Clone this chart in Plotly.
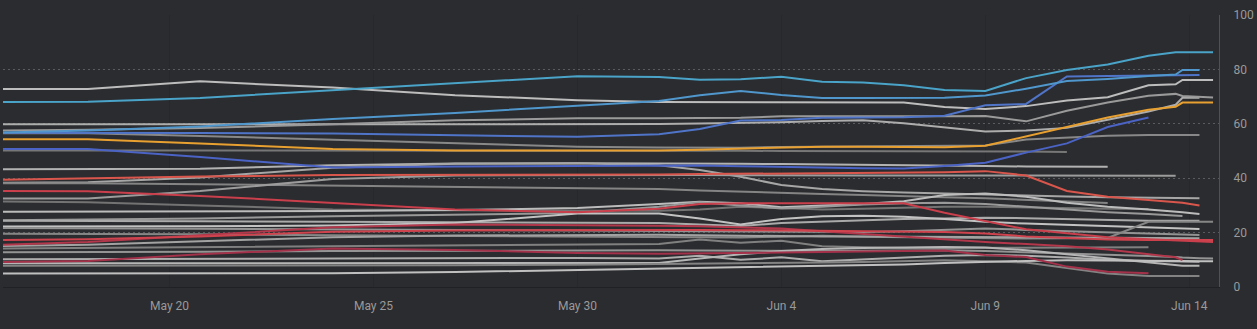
import plotly.graph_objects as go

dates = ["2020-05-15 22:00", "2020-05-18", "2020-05-20 18:00", "2020-05-24", "2020-05-27",
         "2020-05-30", "2020-06-01", "2020-06-02", "2020-06-03", "2020-06-04", "2020-06-05",
         "2020-06-06", "2020-06-07", "2020-06-08", "2020-06-09", "2020-06-10", "2020-06-11",
         "2020-06-12", "2020-06-13", "2020-06-13 16:00", "2020-06-13 20:00",
         "2020-06-14 06:00", "2020-06-14 14:00"]
N = None

# gray series
s_a = [72.8, 72.8, 75.6, 73.3, 70.5, 68.7, 68.0, 68.0, 68.0, 67.9, 67.9, 67.8, 67.8, 66.2, 65.4, 66.5, 68.6, 69.8, 74.2, 74.5, 76.1, 76.1, 76.1]
s_h = [59.8, 59.8, 59.8, 59.8, 59.8, 59.8, 59.9, 60.1, 60.3, 60.6, 61.0, 61.3, 60.2, 58.7, 57.2, 57.5, 58.5, 61.5, 64.5, 67.0, 69.6, 69.6, N]
s_i = [57.5, 57.8, 58.5, 59.8, 61.3, 62.0, 62.0, 62.0, 62.2, 62.8, 62.8, 62.6, 62.6, 62.8, 62.9, 60.9, 64.8, 67.8, 70.3, 71.0, 70.2, 69.8, 69.7]
s_k = [56.5, 56.5, 55.5, 54.2, 52.9, 51.6, 51.3, 51.2, 51.2, 51.5, 51.6, 51.6, 51.6, 51.7, 52.0, 54.2, 55.0, 55.6, 55.9, 55.9, 55.9, 55.9, N]
s_j = [50.2, 50.2, 50.3, 50.3, 50.2, 50.2, 50.2, 50.1, 50.1, 50.0, 50.0, 50.0, 50.0, 50.0, 49.9, 49.8, 49.6, N, N, N, N, N, N]
s_l = [43.3, 43.3, 43.5, 44.8, 45.4, 45.5, 45.5, 45.4, 45.3, 45.2, 45.1, 45.0, 44.9, 44.8, 44.5, 44.3, 44.2, 44.2, N, N, N, N, N]
s_1 = [38.3, 38.5, 40.3, 43.8, 45.3, 45.5, 44.8, 43.0, 40.5, 37.5, 36.0, 35.2, 34.7, 34.3, 34.0, 33.6, 33.3, 33.0, 32.8, 32.7, 32.6, 32.6, N]
s_2 = [38.1, 38.1, 37.8, 37.3, 36.9, 36.4, 36.0, 35.5, 35.0, 34.6, 34.2, 33.8, 33.3, 33.0, 32.6, 32.0, 31.4, 30.9, N, N, N, N, N]
s_3 = [32.5, 32.5, 35.3, 39.7, 41.0, 41.2, 41.2, 41.2, 41.1, 41.0, 41.0, 41.0, 41.0, 41.0, 41.0, 41.0, 40.9, 40.9, 40.9, 40.9, N, N, N]
s_4 = [31.4, 31.2, 30.0, 28.5, 28.2, 28.0, 28.0, 28.5, 29.5, 29.0, 28.5, 28.8, 29.2, 29.5, 29.5, 29.2, 29.0, 28.8, 28.7, N, N, N, N]
s_5 = [27.7, 27.7, 27.7, 27.9, 28.3, 29.0, 30.5, 31.3, 30.8, 29.3, 30.0, 30.5, 31.5, 33.8, 34.4, 33.2, 31.0, 29.5, 28.5, 27.8, 27.5, 26.8, N]
s_6 = [24.5, 24.7, 25.2, 26.0, 26.5, 27.2, 29.5, 31.2, 30.0, 28.9, 29.5, 30.3, 30.8, 31.0, 30.5, 29.5, 28.5, 27.5, 26.8, 26.3, 26.1, N, N]
s_7 = [24.4, 24.4, 24.2, 24.0, 23.8, 23.5, 23.5, 23.0, 22.4, 23.5, 24.0, 24.6, 25.0, 25.2, 25.5, 25.3, 25.0, 24.6, 24.4, 24.4, 24.4, 24.4, N]
s_8 = [22.2, 22.2, 22.3, 22.6, 23.5, 27.0, 27.0, 25.2, 23.0, 25.0, 26.0, 26.2, 25.8, 25.0, 24.0, 23.3, 22.8, 22.3, 21.8, 21.5, 21.4, 21.3, N]
s_9 = [21.7, 21.6, 21.5, 21.3, 21.0, 20.8, 20.6, 20.5, 20.3, 20.2, 20.1, 20.2, 20.5, 21.0, 21.5, 21.0, 20.5, 20.0, 19.5, 19.3, 19.2, 19.1, N]
s_10 = [19.6, 19.6, 19.4, 19.0, 18.8, 18.6, 18.5, 18.3, 18.2, 18.5, 18.8, 18.5, 18.3, 18.0, 17.8, 17.8, 17.9, 18.0, 24.0, 24.0, 24.0, 24.0, 24.0]
s_11 = [15.1, 15.5, 16.8, 18.3, 18.9, 19.2, 19.2, 19.0, 18.8, 18.7, 18.6, 18.6, 18.5, 18.4, 18.4, 18.3, 18.2, 18.0, 18.0, 17.9, 17.9, 17.9, N]
s_12 = [14.2, 14.4, 14.8, 15.2, 15.5, 15.8, 15.8, 17.5, 16.3, 17.0, 15.0, 14.6, 14.3, 14.3, 14.4, 14.5, 14.6, 14.6, 14.6, N, N, N, N]
s_13 = [12.8, 12.8, 13.0, 13.2, 13.4, 13.5, 13.5, 13.4, 13.3, 13.2, 13.2, 13.3, 13.5, 13.5, 13.2, 12.8, 12.4, 12.0, 11.4, 11.0, 10.8, 10.6, 10.5]
s_14 = [10.2, 10.3, 10.4, 10.5, 10.6, 10.7, 10.5, 11.5, 10.0, 10.9, 9.5, 10.2, 11.0, 11.5, 11.8, 11.5, 10.8, 10.0, 9.6, 9.4, 9.3, 9.3, N]
s_15 = [8.7, 8.7, 8.7, 8.7, 8.7, 8.7, 8.8, 10.5, 12.0, 13.2, 14.0, 14.3, 14.5, 14.7, 14.5, 13.5, 12.0, 10.5, 9.0, 8.0, 7.8, 7.8, N]
s_16 = [7.8, 7.8, 7.8, 7.9, 8.0, 8.2, 8.4, 8.5, 8.6, 8.8, 9.0, 9.2, 9.5, 9.8, 9.5, 9.0, 7.0, 5.0, 4.0, 4.0, 4.0, 4.0, N]
s_17 = [5.0, 5.0, 5.0, 5.1, 5.5, 6.2, 6.8, 7.0, 7.2, 7.4, 7.6, 7.9, 8.3, 8.8, 9.3, 9.6, 9.8, 9.8, 9.7, 9.6, 9.6, 9.5, 9.5]

# coloured series
s_cyan1 = [68.0, 68.1, 69.5, 72.3, 74.8, 77.5, 77.2, 76.2, 76.4, 77.3, 75.5, 75.2, 74.2, 72.4, 72.1, 76.8, 79.8, 81.8, 85.0, 86.3, 86.3, 86.3, 86.3]
s_cyan2 = [56.8, 57.5, 59.0, 61.8, 64.0, 66.7, 68.4, 70.5, 72.1, 70.6, 69.5, 69.5, 69.5, 69.6, 70.4, 72.9, 75.7, 76.5, 77.6, 78.1, 79.8, 79.8, N]
s_blue1 = [56.7, 56.7, 56.6, 56.4, 55.7, 55.2, 56.2, 58.1, 61.2, 61.4, 62.2, 62.4, 62.4, 63.0, 66.8, 67.3, 77.4, 77.6, 77.8, 77.9, 77.9, 77.9, N]
s_orange = [54.3, 54.3, 52.8, 50.7, 50.2, 50.1, 50.2, 50.5, 50.9, 51.3, 51.6, 51.6, 51.5, 51.4, 51.9, 55.4, 58.7, 62.3, 65.2, 66.3, 67.8, 67.8, 67.8]
s_blue2 = [50.7, 50.7, 47.8, 43.9, 44.3, 44.6, 44.8, 44.7, 44.4, 44.1, 43.9, 43.7, 43.6, 44.5, 45.7, 49.4, 52.8, 58.8, 62.3, N, N, N, N]
s_red1 = [39.4, 40.0, 40.6, 41.2, 41.2, 41.3, 41.4, 41.5, 41.6, 41.7, 41.8, 41.9, 42.0, 42.2, 42.6, 41.0, 35.3, 33.2, 32.0, 31.2, 31.0, 30.0, N]
s_red2 = [35.3, 35.2, 33.5, 31.0, 28.5, 27.5, 28.8, 30.5, 30.8, 30.8, 30.8, 30.9, 30.8, 27.3, 24.2, 21.2, 19.8, 18.3, 17.6, 17.2, 17.0, 16.8, 16.5]
s_red3 = [17.3, 17.6, 18.6, 20.3, 20.8, 21.0, 21.0, 21.0, 20.9, 20.8, 20.7, 20.6, 20.5, 20.2, 19.7, 18.6, 18.0, 17.5, 17.3, 17.3, 17.3, 17.3, 17.3]
s_red4 = [9.2, 9.6, 12.0, 14.2, 13.6, 12.5, 12.2, 12.3, 12.5, 12.7, 12.9, 13.1, 13.3, 13.4, 11.8, 11.0, 7.5, 5.6, 5.1, N, N, N, N]
s_red5 = [15.5, 16.5, 19.0, 22.0, 23.0, 22.8, 22.5, 22.3, 22.0, 21.5, 20.5, 19.5, 18.5, 17.5, 16.5, 15.8, 15.0, 13.8, 12.2, 10.9, 9.9, N, N]

tick_vals = ["2020-05-20", "2020-05-25", "2020-05-30", "2020-06-04", "2020-06-09", "2020-06-14"]
tick_text = ["May 20", "May 25", "May 30", "Jun 4", "Jun 9", "Jun 14"]
y_ticks = [0, 20, 40, 60, 80, 100]

grays = [
    (s_a, "#bdbdbd"), (s_h, "#adadad"), (s_i, "#9a9a9a"), (s_k, "#888888"), (s_j, "#777777"),
    (s_l, "#b2b2b2"), (s_1, "#a6a6a6"), (s_2, "#848484"), (s_3, "#9c9c9c"), (s_4, "#737373"),
    (s_5, "#bcbcbc"), (s_6, "#999999"), (s_7, "#aaaaaa"), (s_8, "#c2c2c2"), (s_9, "#939393"),
    (s_10, "#868686"), (s_11, "#a2a2a2"), (s_12, "#808080"), (s_13, "#949494"), (s_14, "#adadad"),
    (s_15, "#b6b6b6"), (s_16, "#838383"), (s_17, "#c0c0c0"),
]
colored = [
    (s_red5, "#b3374b"), (s_red4, "#a3314a"), (s_red3, "#cf434e"), (s_red2, "#c93f4b"),
    (s_red1, "#d9564d"), (s_blue2, "#4a63c4"), (s_orange, "#e8a030"), (s_blue1, "#4f74c8"),
    (s_cyan2, "#4f97cc"), (s_cyan1, "#4aa3c8"),
]

fig = go.Figure()
for vals, col in grays + colored:
    fig.add_trace(go.Scatter(x=dates, y=vals, mode="lines", line=dict(color=col, width=2),
                             connectgaps=False, hoverinfo="skip", showlegend=False))

fig.update_layout(
    width=1257, height=329,
    margin=dict(l=3, r=31, t=15, b=42),
    paper_bgcolor="#2b2c2f", plot_bgcolor="#2b2c2f",
    font=dict(family="Roboto, Arial, sans-serif", size=12, color="#9a9a9a"),
    showlegend=False,
)
fig.update_xaxes(
    type="date", range=["2020-05-15 22:00", "2020-06-14 17:30"],
    tickvals=tick_vals, ticktext=tick_text,
    showgrid=True, gridcolor="#27282b", gridwidth=1,
    showline=True, linecolor="#202124", linewidth=1,
    zeroline=False, ticks="", ticklabelstandoff=8,
)
fig.update_yaxes(
    range=[0, 100], side="right", tickvals=y_ticks,
    showgrid=True, gridcolor="#5a5b5e", gridwidth=1, griddash="2px,3px",
    showline=True, linecolor="#505154", linewidth=1,
    zeroline=False, ticks="", ticklabelstandoff=11,
)
fig.write_html("out.html")
